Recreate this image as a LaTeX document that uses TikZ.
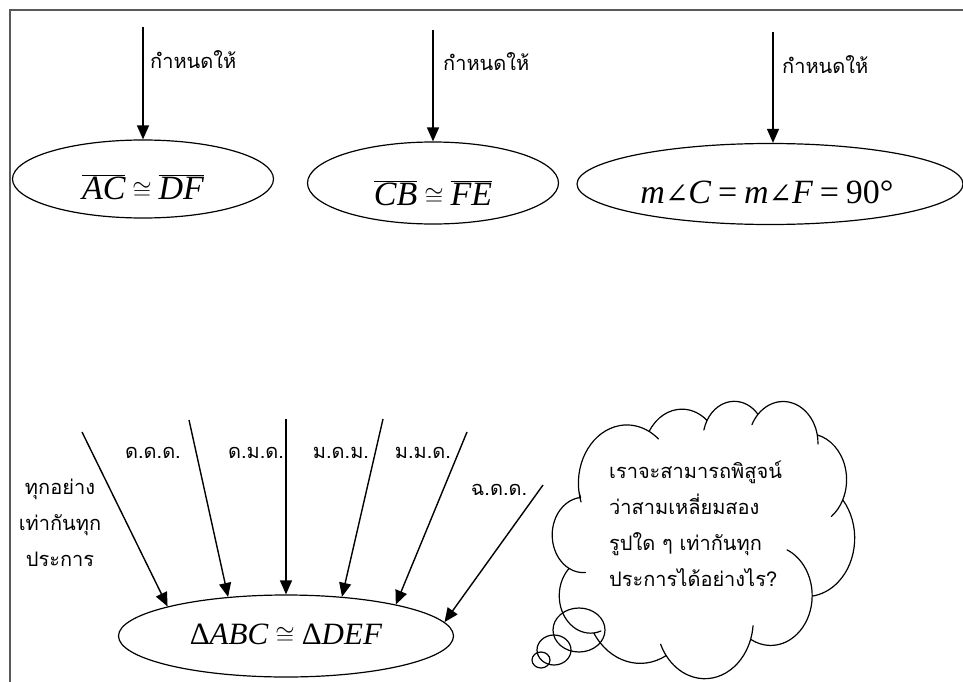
\documentclass[tikz,border=0pt]{standalone}
\usepackage{fontspec}
\setmainfont{Liberation Serif}
\newfontfamily\thai[Script=Thai]{Loma}
\newfontfamily\symf{DejaVu Serif}
\usetikzlibrary{shapes.geometric,arrows.meta}
\newcommand{\ang}{\mbox{\symf\fontsize{28}{30}\selectfont ∠}}
\newcommand{\eqs}{\mathrel{\mbox{=}}}
\newcommand{\shiftbox}[2]{\raisebox{#1}[0pt][0pt]{#2}}
% cloud geometry (DrawingML-style arcs, units of 1/432 of the box)
\newcommand{\cldx}{551}\newcommand{\cldy}{401}
\newcommand{\cwf}{0.7176}\newcommand{\chf}{0.6333}
\newcommand{\pang}[3]{atan2(sin(#3)*(#1),cos(#3)*(#2))}
\newcommand{\carcp}[4]{arc[start angle={\pang{#1*\cwf}{#2*\chf}{#3}},
  delta angle={mod(\pang{#1*\cwf}{#2*\chf}{#3+#4}-\pang{#1*\cwf}{#2*\chf}{#3}+720,360)},
  x radius={#1*\cwf}, y radius={#2*\chf}]}
\newcommand{\carcn}[4]{arc[start angle={\pang{#1*\cwf}{#2*\chf}{#3}},
  delta angle={mod(\pang{#1*\cwf}{#2*\chf}{#3+#4}-\pang{#1*\cwf}{#2*\chf}{#3}-720,360)},
  x radius={#1*\cwf}, y radius={#2*\chf}]}
\begin{document}
\begin{tikzpicture}[x=1pt,y=-1pt,
  ell/.style={draw, ellipse, line width=1.2pt, inner sep=0pt, font=\fontsize{34}{38}\selectfont},
  arr/.style={-{Triangle[length=14pt,width=12pt]}, line width=1.4pt},
  th/.style={font=\thai\fontsize{20}{36}\selectfont, inner sep=0pt},
  cloudline/.style={line width=1.2pt, line join=round}]
\useasboundingbox (0,0) rectangle (963,682);
\draw[black!65, line width=1.5pt] (10,682) -- (10,10) -- (963,10);

% top ellipses
\node[ell, minimum width=261pt, minimum height=78pt] (e1) at (143,179)
  {\shiftbox{-20pt}{$\overline{\textit{AC}}\cong\overline{\textit{DF}}$}};
\node[ell, minimum width=251pt, minimum height=82pt] (e2) at (433,183)
  {\shiftbox{-22pt}{$\overline{\textit{CB}}\cong\overline{\textit{FE}}$}};
\node[ell, minimum width=386pt, minimum height=81pt] (e3) at (770,184)
  {\hspace*{-6pt}\shiftbox{-19pt}{$\textit{m}\ang\textit{C}\eqs\textit{m}\ang\textit{F}\eqs\mbox{90°}$}};

\coordinate (t1) at (143,27);
\coordinate (t2) at (433,30);
\coordinate (t3) at (773,32);
\draw[arr] (t1) -- (t1 |- e1.north);
\draw[arr] (t2) -- (t2 |- e2.north);
\draw[arr] (t3) -- (t3 |- e3.north);
\node[th, anchor=west] (g1) at (150,60) {กำหนดให้};
\node[th, anchor=west] (g2) at (443,62) {กำหนดให้};
\node[th, anchor=west] (g3) at (782,65) {กำหนดให้};

% bottom ellipse
\node[ell, minimum width=335pt, minimum height=82pt, font=\fontsize{31}{34}\selectfont] (eb) at (286,636)
  {\shiftbox{-8pt}{$\mbox{Δ\textit{ABC}}\cong\mbox{Δ\textit{DEF}}$}};

\coordinate (s1) at (82,432);
\coordinate (s2) at (189,420);
\coordinate (s3) at (286,419);
\coordinate (s4) at (383,419);
\coordinate (s5) at (467,432);
\coordinate (s6) at (543,485);
\draw[arr] (s1) -- (eb.166);
\draw[arr] (s2) -- (eb.146);
\draw[arr] (s3) -- (eb.north);
\draw[arr] (s4) -- (eb.35);
\draw[arr] (s5) -- (eb.16);
\draw[arr] (s6) -- (eb.5);

\node[th] (l2) at (153,453) {ด.ด.ด.};
\node[th] (l3) at (256,453) {ด.ม.ด.};
\node[th] (l4) at (341,453) {ม.ด.ม.};
\node[th] (l5) at (423,453) {ม.ม.ด.};
\node[th] (l6) at (499,490) {ฉ.ด.ด.};
\node[th, align=center] (l1) at (60,523) {ทุกอย่าง\\เท่ากันทุก\\ประการ};

% thought cloud
\coordinate (c0) at ({\cldx+39.00*\cwf},{\cldy+143.70*\chf});
\draw[cloudline] (c0)
  \carcn{67.53}{91.90}{-190.48748}{-11.8582} \carcp{67.53}{91.90}{-202.34568}{11.8582}
  \carcp{67.53}{91.90}{-190.48748}{123.78053}
  \carcp{67.53}{91.90}{-66.70695}{12.3194} \carcn{67.53}{91.90}{-54.38755}{-12.3194}
  \carcp{53.33}{72.67}{-144.10238}{89.94523}
  \carcn{43.65}{59.45}{-145.80792}{-17.6864} \carcp{43.65}{59.45}{-163.49432}{17.6864}
  \carcp{43.65}{59.45}{-145.80792}{99.72302}
  \carcn{48.57}{65.95}{-130.98607}{-18.1954} \carcp{48.57}{65.95}{-149.18147}{18.1954}
  \carcp{48.57}{65.95}{-130.98607}{117.24173}
  \carcp{48.57}{65.95}{-13.74434}{14.8589} \carcn{48.57}{65.95}{1.11456}{-14.8589}
  \carcp{53.33}{72.73}{-78.70888}{109.02692}
  \carcp{53.33}{72.73}{30.31804}{27.7515} \carcn{53.33}{72.73}{58.06954}{-27.7515}
  \carcp{67.75}{92.20}{-46.26725}{130.269}
  \carcn{57.85}{78.67}{0.62502}{-70.9174} \carcp{57.85}{78.67}{-70.29238}{70.9174}
  \carcp{57.85}{78.67}{0.62502}{114.03333}
  \carcn{67.52}{92.15}{22.4516}{-15.9984} \carcp{67.52}{92.15}{6.4532}{15.9984}
  \carcp{67.52}{92.15}{22.4516}{115.17255}
  \carcp{67.52}{92.15}{137.62415}{14.0811} \carcn{67.52}{92.15}{151.70525}{-14.0811}
  \carcp{77.20}{105.43}{66.24263}{75.71102}
  \carcn{43.60}{59.18}{-274.94208}{-11.4475} \carcp{43.60}{59.18}{-286.38958}{11.4475}
  \carcp{43.60}{59.18}{-274.94208}{146.73557}
  \carcn{43.45}{59.45}{-246.8285}{-26.4295} \carcp{43.45}{59.45}{-273.258}{26.4295}
  \carcp{43.45}{59.45}{-246.8285}{152.51885}
  -- cycle;
\node[th, align=left, anchor=west] (ct) at (609,524)
  {เราจะสามารถพิสูจน์\\ว่าสามเหลี่ยมสอง\\รูปใด ๆ เท่ากันทุก\\ประการได้อย่างไร?};
\draw[line width=1.2pt] (579,630) ellipse [x radius=26pt, y radius=22pt];
\draw[line width=1.2pt] (554,650) ellipse [x radius=17pt, y radius=15pt];
\draw[line width=1.2pt] (541,660) ellipse [x radius=9pt, y radius=8pt];
\end{tikzpicture}
\end{document}
